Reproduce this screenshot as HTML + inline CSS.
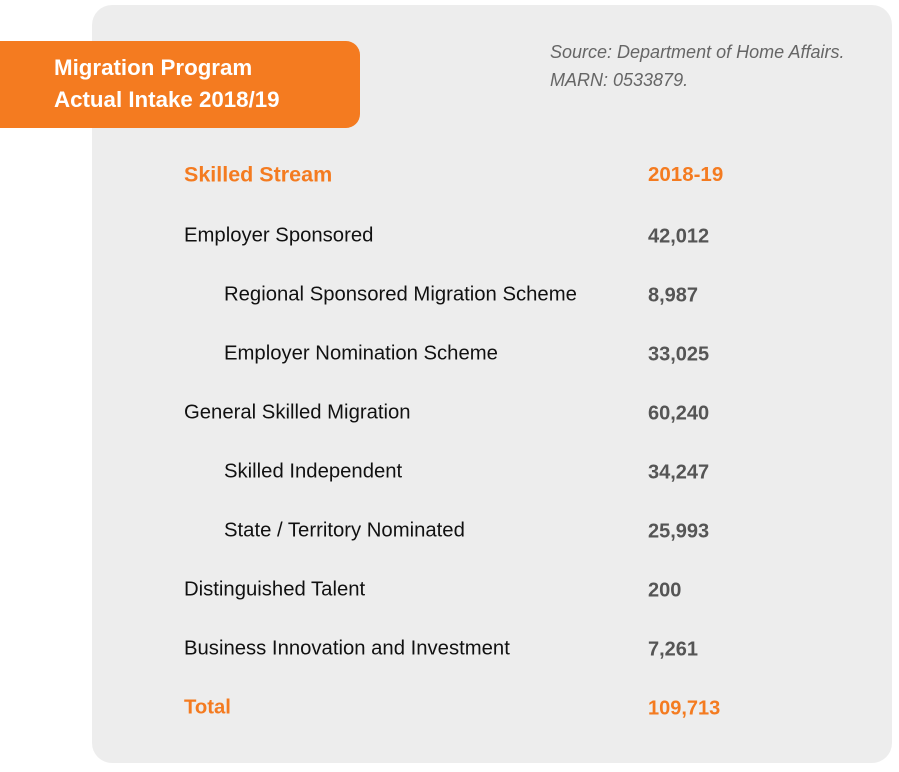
<!DOCTYPE html>
<html><head><meta charset="utf-8"><style>
body{margin:0;width:899px;height:772px;background:#fff;position:relative;overflow:hidden;font-family:"Liberation Sans",sans-serif}
.panel{position:absolute;left:92px;top:5px;width:800px;height:758px;background:#ededed;border-radius:20px}
.tab{position:absolute;left:0;top:41px;width:360px;height:87px;background:#f47b20;border-radius:0 14px 14px 0}
.tab div{position:absolute;left:54px;color:#fff;font-weight:bold;font-size:22.3px;white-space:nowrap}
.src{position:absolute;left:550px;top:38px;font-style:italic;color:#666;font-size:18px;line-height:28px}
.r{position:absolute;font-size:20.3px;color:#111;white-space:nowrap;transform:translateY(-50%)}
.n{position:absolute;left:648px;font-size:20px;font-weight:bold;color:#555;transform:translateY(-50%)}
.o{color:#f47b20!important;font-weight:bold}
</style></head><body>
<div class="panel"></div>
<div class="tab"><div style="top:14px">Migration Program</div><div style="top:46px">Actual Intake 2018/19</div></div>
<div class="src">Source: Department of Home Affairs.<br>MARN: 0533879.</div>
<div class="r o" style="left:184px;top:175px;font-size:21.5px">Skilled Stream</div><div class="n o" style="top:175px;font-size:20.5px">2018-19</div>
<div class="r" style="left:184px;top:236px">Employer Sponsored</div><div class="n" style="top:237px">42,012</div>
<div class="r" style="left:224px;top:295px">Regional Sponsored Migration Scheme</div><div class="n" style="top:296px">8,987</div>
<div class="r" style="left:224px;top:354px">Employer Nomination Scheme</div><div class="n" style="top:355px">33,025</div>
<div class="r" style="left:184px;top:413px">General Skilled Migration</div><div class="n" style="top:414px">60,240</div>
<div class="r" style="left:224px;top:472px">Skilled Independent</div><div class="n" style="top:473px">34,247</div>
<div class="r" style="left:224px;top:531px">State / Territory Nominated</div><div class="n" style="top:532px">25,993</div>
<div class="r" style="left:184px;top:590px">Distinguished Talent</div><div class="n" style="top:591px">200</div>
<div class="r" style="left:184px;top:649px">Business Innovation and Investment</div><div class="n" style="top:650px">7,261</div>
<div class="r o" style="left:184px;top:708px">Total</div><div class="n o" style="top:709px">109,713</div>
</body></html>
